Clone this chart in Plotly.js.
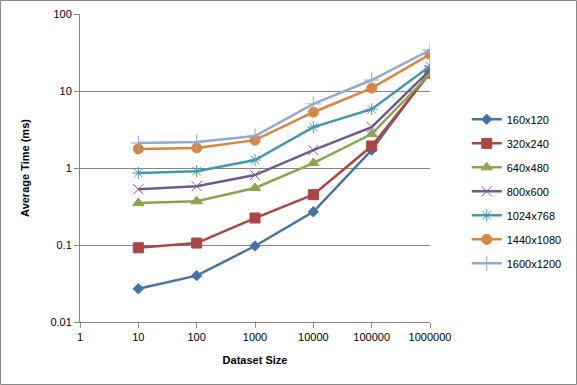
<!DOCTYPE html>
<html><head><meta charset="utf-8">
<script src="https://cdn.plot.ly/plotly-3.0.1.min.js"></script>
<style>html,body{margin:0;padding:0;background:#fff}#chart{width:577px;height:385px}</style>
</head><body><div id="chart"></div>
<script>
const datasetSizes = [10, 100, 1000, 10000, 100000, 1000000];
const seriesNames = ['160x120', '320x240', '640x480', '800x600', '1024x768', '1440x1080', '1600x1200'];
const s160x120   = [0.027, 0.040, 0.097, 0.27, 1.71, 18];
const s320x240   = [0.092, 0.106, 0.224, 0.45, 1.93, 17];
const s640x480   = [0.35, 0.37, 0.55, 1.16, 2.76, 16.6];
const s800x600   = [0.53, 0.58, 0.81, 1.71, 3.4, 18.7];
const s1024x768  = [0.86, 0.91, 1.27, 3.4, 5.8, 21];
const s1440x1080 = [1.77, 1.82, 2.3, 5.3, 10.9, 30];
const s1600x1200 = [2.11, 2.18, 2.6, 6.8, 13.9, 34];
const seriesValues = [s160x120, s320x240, s640x480, s800x600, s1024x768, s1440x1080, s1600x1200];
const xTickVals = [1, 10, 100, 1000, 10000, 100000, 1000000];
const xTickText = ['1', '10', '100', '1000', '10000', '100000', '1000000'];
const yTickVals = [0.01, 0.1, 1, 10, 100];
const yTickText = ['0.01', '0.1', '1', '10', '100'];

const colors = ['#4572A7', '#AA4643', '#89A54E', '#71588F', '#4198AF', '#DB843D', '#93A9CF'];
const symbols = ['diamond', 'square', 'triangle-up', 'x-thin-open', 'asterisk-open', 'circle', 'cross-thin-open'];
const sizes = [8, 10, 10, 10, 10, 10, 11];

const traces = seriesNames.map((n, i) => ({
  x: datasetSizes, y: seriesValues[i], name: n, type: 'scatter', mode: 'lines+markers',
  legendgroup: 'g' + i,
  line: {color: colors[i], width: 2.5},
  marker: {symbol: symbols[i], size: sizes[i], color: colors[i], line: {color: colors[i], width: 1}}
}));

const W = 350, H = 308;
const FONT = 'Liberation Sans, Arial, sans-serif';
const layout = {
  width: 577, height: 385,
  margin: {l: 80, r: 147, t: 14, b: 63, autoexpand: false},
  paper_bgcolor: '#fff', plot_bgcolor: '#fff',
  font: {family: FONT, size: 11, color: '#000'},
  showlegend: true,
  legend: {x: 1.105, xanchor: 'left', y: 0.705, yanchor: 'top', traceorder: 'grouped', tracegroupgap: 5,
    font: {size: 11, family: FONT}, bgcolor: 'rgba(0,0,0,0)', itemwidth: 30},
  xaxis: {type: 'log', range: [0, 6], tickvals: xTickVals, ticktext: xTickText,
    showgrid: false, zeroline: false, showline: true, linecolor: '#868686', linewidth: 1,
    ticks: 'outside', ticklen: 5, tickcolor: '#868686', tickfont: {size: 11},
    title: {text: 'Dataset Size', font: {size: 11, family: FONT, weight: 'bold'}, standoff: 14}},
  yaxis: {type: 'log', range: [-2, 2], tickvals: yTickVals, ticktext: yTickText,
    showgrid: true, gridcolor: '#868686', gridwidth: 1, zeroline: false, showline: true, linecolor: '#868686', linewidth: 1,
    ticks: 'outside', ticklen: 5, tickcolor: '#868686', tickfont: {size: 11},
    title: {text: 'Average Time (ms)', font: {size: 11, family: FONT, weight: 'bold'}, standoff: 18}},
  shapes: [{type: 'rect', xref: 'paper', yref: 'paper',
    x0: -79.5 / W, x1: 496.5 / W, y0: -62.5 / H, y1: (H + 13.5) / H,
    line: {color: '#888', width: 1}, fillcolor: 'rgba(0,0,0,0)', layer: 'below'}]
};
Plotly.newPlot('chart', traces, layout, {displayModeBar: false, staticPlot: true});
</script></body></html>
